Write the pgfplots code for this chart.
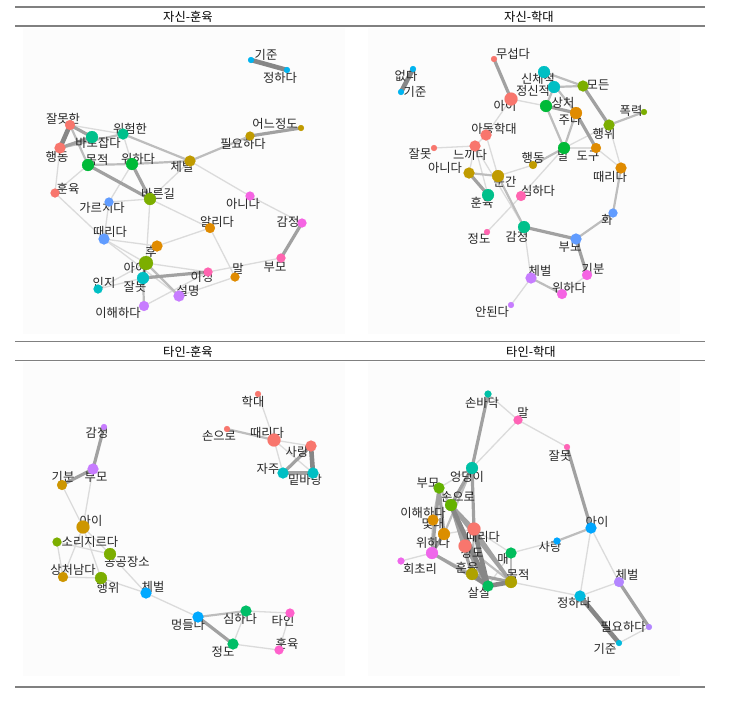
\documentclass[border=0pt]{standalone}
\usepackage{fontspec}
\setmainfont{Noto Sans CJK KR}
\usepackage{pgfplots}
\pgfplotsset{compat=1.18}
% 12-hue palette (top panels)
\definecolor{h1}{HTML}{F8766D}\definecolor{h2}{HTML}{E08B00}\definecolor{h3}{HTML}{C09B00}
\definecolor{h4}{HTML}{7CAE00}\definecolor{h5}{HTML}{00BA38}\definecolor{h6}{HTML}{00C08B}
\definecolor{h7}{HTML}{00BFC4}\definecolor{h8}{HTML}{00B4F0}\definecolor{h9}{HTML}{619CFF}
\definecolor{h10}{HTML}{C77CFF}\definecolor{h11}{HTML}{F564E3}\definecolor{h12}{HTML}{FF64B0}
% 8-hue palette (bottom left)
\definecolor{g1}{HTML}{F8766D}\definecolor{g2}{HTML}{CD9600}\definecolor{g3}{HTML}{7CAE00}
\definecolor{g4}{HTML}{00BE67}\definecolor{g5}{HTML}{00BFC4}\definecolor{g6}{HTML}{00A9FF}
\definecolor{g7}{HTML}{C77CFF}\definecolor{g8}{HTML}{FF61CC}
% 11-hue palette (bottom right)
\definecolor{k1}{HTML}{F8766D}\definecolor{k2}{HTML}{DB8E00}\definecolor{k3}{HTML}{AEA200}
\definecolor{k4}{HTML}{64B200}\definecolor{k5}{HTML}{00BD5C}\definecolor{k6}{HTML}{00C1A7}
\definecolor{k7}{HTML}{00BADE}\definecolor{k8}{HTML}{00A6FF}\definecolor{k9}{HTML}{B385FF}
\definecolor{k10}{HTML}{EF67EB}\definecolor{k11}{HTML}{FF63B6}
\definecolor{rulegray}{HTML}{808080}
\definecolor{panelbg}{HTML}{FCFCFC}

\newcommand\pos[2]{\expandafter\def\csname pos-#1\endcsname{#2}}
\newcommand\edg[3]{\edef\mytmp{\noexpand\addplot[#1] coordinates {(\csname pos-#2\endcsname) (\csname pos-#3\endcsname)};}\mytmp}
\newcommand\vtx[3]{\edef\mytmp{\noexpand\addplot[only marks, mark=*, color=#2, mark size=#3pt, mark options={solid, draw=#2, fill=#2, line width=0.1pt}, forget plot] coordinates {(\csname pos-#1\endcsname)};}\mytmp}
\newcommand\lab[3]{\node[lbl] at (axis cs:#1,#2) {#3};}

% ---------- panel 1: 자신-훈육 ----------
\pos{a1}{251,60}\pos{a2}{287,70}\pos{a3}{70,125}\pos{a4}{60,148}\pos{a5}{92,137}
\pos{a6}{123,134}\pos{a7}{88,165}\pos{a8}{132,164}\pos{a9}{190,161}\pos{a10}{250,136}
\pos{a11}{301,128}\pos{a12}{55,193}\pos{a13}{150,199}\pos{a14}{109,202}\pos{a15}{250,196}
\pos{a16}{302,223}\pos{a17}{210,228}\pos{a18}{104,239}\pos{a19}{157,246}\pos{a20}{146,263}
\pos{a21}{143,278}\pos{a22}{98,289}\pos{a23}{144,306}\pos{a24}{179,296}\pos{a25}{208,272}
\pos{a26}{235,277}\pos{a27}{281,258}
% ---------- panel 2: 자신-학대 ----------
\pos{b1}{413,69}\pos{b2}{401,92}\pos{b3}{494,59}\pos{b4}{511,99}\pos{b5}{544,72}
\pos{b6}{554,87}\pos{b7}{583,86}\pos{b8}{546,106}\pos{b9}{576,113}\pos{b10}{644,112}
\pos{b11}{609,125}\pos{b12}{486,135}\pos{b13}{434,148}\pos{b14}{475,146}\pos{b15}{564,148}
\pos{b16}{533,165}\pos{b17}{596,148}\pos{b18}{469,173}\pos{b19}{498,176}\pos{b20}{621,168}
\pos{b21}{488,195}\pos{b22}{521,196}\pos{b23}{613,213}\pos{b24}{487,232}\pos{b25}{524,227}
\pos{b26}{576,239}\pos{b27}{531,278}\pos{b28}{587,275}\pos{b29}{562,294}\pos{b30}{511,305}
% ---------- panel 3: 타인-훈육 ----------
\pos{c1}{258,394}\pos{c2}{227,429}\pos{c3}{274,440}\pos{c4}{311,446}\pos{c5}{283,473}
\pos{c6}{313,473}\pos{c7}{104,427}\pos{c8}{93,469}\pos{c9}{62,485}\pos{c10}{83,527}
\pos{c11}{57,542}\pos{c12}{110,554}\pos{c13}{63,577}\pos{c14}{101,578}\pos{c15}{146,593}
\pos{c16}{198,617}\pos{c17}{246,611}\pos{c18}{290,613}\pos{c19}{233,644}\pos{c20}{279,650}
% ---------- panel 4: 타인-학대 ----------
\pos{d1}{488,394}\pos{d2}{518,420}\pos{d3}{567,447}\pos{d4}{472,468}\pos{d5}{439,488}
\pos{d6}{451,505}\pos{d7}{433,520}\pos{d8}{444,534}\pos{d9}{474,529}\pos{d10}{465,546}
\pos{d11}{432,553}\pos{d12}{401,561}\pos{d13}{472,574}\pos{d14}{511,553}\pos{d15}{511,582}
\pos{d16}{488,586}\pos{d17}{557,541}\pos{d18}{591,528}\pos{d19}{619,582}\pos{d20}{580,596}
\pos{d21}{649,627}\pos{d22}{619,643}

\pgfplotsset{
  e1/.style={line width=1.3pt, color=black!14, line cap=round, forget plot},
  e2/.style={line width=2.2pt, color=black!26, line cap=round, forget plot},
  e3/.style={line width=3.2pt, color=black!37, line cap=round, forget plot},
  e4/.style={line width=4.6pt, color=black!47, line cap=round, forget plot},
}
\tikzset{lbl/.style={font=\fontsize{12.3}{13}\selectfont, text=black!85, inner sep=0pt, anchor=center},
         ttl/.style={font=\fontsize{12.3}{13}\selectfont, text=black, inner sep=0pt, anchor=center}}

\begin{document}
\begin{tikzpicture}
\begin{axis}[width=754pt, height=721pt, scale only axis,
  xmin=0, xmax=754, ymin=0, ymax=721, y dir=reverse,
  hide axis, clip=false]
\path (rel axis cs:0,0) rectangle (rel axis cs:1,1);
% panel backgrounds
\addplot[fill=panelbg, draw=none, forget plot] coordinates {(23,28) (345,28) (345,334) (23,334)} -- cycle;
\addplot[fill=panelbg, draw=none, forget plot] coordinates {(368,28) (680,28) (680,334) (368,334)} -- cycle;
\addplot[fill=panelbg, draw=none, forget plot] coordinates {(23,362) (345,362) (345,676) (23,676)} -- cycle;
\addplot[fill=panelbg, draw=none, forget plot] coordinates {(368,362) (680,362) (680,676) (368,676)} -- cycle;
% rules
\addplot[rulegray, line width=1.2pt, forget plot] coordinates {(15,7) (705,7)};
\addplot[rulegray, line width=1.2pt, forget plot] coordinates {(15,26) (705,26)};
\addplot[rulegray, line width=1.2pt, forget plot] coordinates {(15,341.5) (705,341.5)};
\addplot[rulegray, line width=1.2pt, forget plot] coordinates {(15,360.5) (705,360.5)};
\addplot[rulegray, line width=1.2pt, forget plot] coordinates {(15,687) (705,687)};
\node[ttl] at (axis cs:188,16.5) {자신-훈육};
\node[ttl] at (axis cs:529,16.5) {자신-학대};
\node[ttl] at (axis cs:188,351.5) {타인-훈육};
\node[ttl] at (axis cs:531,351.5) {타인-학대};

% ===== panel 1 edges =====
\edg{e1}{a3}{a6}\edg{e1}{a9}{a15}\edg{e1}{a15}{a16}\edg{e1}{a27}{a25}\edg{e1}{a26}{a24}
\edg{e1}{a26}{a17}\edg{e1}{a17}{a19}\edg{e1}{a13}{a17}\edg{e1}{a9}{a13}\edg{e1}{a13}{a14}
\edg{e1}{a13}{a20}\edg{e1}{a8}{a14}\edg{e1}{a6}{a8}\edg{e1}{a12}{a4}\edg{e1}{a12}{a7}
\edg{e1}{a12}{a18}\edg{e1}{a18}{a14}\edg{e1}{a18}{a19}\edg{e1}{a18}{a20}\edg{e1}{a18}{a24}
\edg{e1}{a20}{a25}\edg{e1}{a21}{a22}\edg{e1}{a20}{a22}\edg{e1}{a23}{a25}\edg{e1}{a19}{a20}
\edg{e2}{a3}{a7}\edg{e2}{a4}{a6}\edg{e2}{a7}{a8}\edg{e2}{a8}{a9}\edg{e2}{a6}{a9}
\edg{e2}{a9}{a10}\edg{e2}{a20}{a24}\edg{e2}{a21}{a23}
\edg{e3}{a3}{a5}\edg{e3}{a4}{a5}\edg{e3}{a7}{a13}\edg{e3}{a8}{a13}\edg{e3}{a10}{a11}
\edg{e3}{a16}{a27}\edg{e3}{a20}{a21}\edg{e3}{a21}{a25}
\edg{e4}{a1}{a2}\edg{e4}{a3}{a4}
% ===== panel 2 edges =====
\edg{e1}{b4}{b8}\edg{e1}{b4}{b12}\edg{e1}{b11}{b20}\edg{e1}{b15}{b17}\edg{e1}{b17}{b20}
\edg{e1}{b15}{b11}\edg{e1}{b16}{b19}\edg{e1}{b12}{b14}\edg{e1}{b12}{b19}\edg{e1}{b13}{b14}
\edg{e1}{b14}{b18}\edg{e1}{b14}{b21}\edg{e1}{b22}{b24}\edg{e1}{b22}{b15}\edg{e1}{b14}{b25}
\edg{e1}{b28}{b29}\edg{e1}{b25}{b27}\edg{e1}{b27}{b30}
\edg{e2}{b5}{b7}\edg{e2}{b5}{b9}\edg{e2}{b6}{b7}\edg{e2}{b6}{b8}\edg{e2}{b8}{b15}
\edg{e2}{b9}{b15}\edg{e2}{b11}{b10}\edg{e2}{b15}{b16}\edg{e2}{b18}{b19}\edg{e2}{b19}{b25}
\edg{e2}{b26}{b23}\edg{e2}{b23}{b20}\edg{e2}{b27}{b29}
\edg{e3}{b3}{b4}\edg{e3}{b8}{b9}\edg{e3}{b9}{b17}\edg{e3}{b7}{b11}\edg{e3}{b18}{b21}
\edg{e3}{b25}{b26}\edg{e3}{b26}{b28}
\edg{e4}{b1}{b2}
% ===== panel 3 edges =====
\edg{e1}{c1}{c3}\edg{e1}{c3}{c4}\edg{e1}{c3}{c5}\edg{e1}{c3}{c6}\edg{e1}{c9}{c10}
\edg{e1}{c8}{c10}\edg{e1}{c10}{c12}\edg{e1}{c10}{c14}\edg{e1}{c11}{c12}\edg{e1}{c11}{c13}
\edg{e1}{c13}{c14}\edg{e1}{c12}{c15}\edg{e1}{c14}{c15}\edg{e1}{c15}{c16}\edg{e1}{c17}{c19}
\edg{e1}{c17}{c18}\edg{e1}{c19}{c20}\edg{e1}{c18}{c20}\edg{e1}{c10}{c13}
\edg{e2}{c2}{c3}\edg{e2}{c16}{c17}
\edg{e3}{c5}{c4}\edg{e3}{c5}{c6}\edg{e3}{c7}{c8}\edg{e3}{c8}{c9}\edg{e3}{c16}{c19}
\edg{e4}{c4}{c6}
% ===== panel 4 edges =====
\edg{e1}{d1}{d2}\edg{e1}{d2}{d4}\edg{e1}{d2}{d3}\edg{e1}{d4}{d5}\edg{e1}{d8}{d9}
\edg{e1}{d11}{d12}\edg{e1}{d14}{d17}\edg{e1}{d14}{d16}\edg{e1}{d14}{d9}\edg{e1}{d15}{d20}
\edg{e1}{d18}{d20}\edg{e1}{d18}{d19}\edg{e1}{d20}{d19}\edg{e1}{d21}{d22}
\edg{e2}{d4}{d8}\edg{e2}{d5}{d6}\edg{e2}{d5}{d7}\edg{e2}{d7}{d11}\edg{e2}{d9}{d13}
\edg{e2}{d10}{d15}\edg{e2}{d11}{d13}\edg{e2}{d14}{d15}\edg{e2}{d17}{d18}
\edg{e3}{d1}{d4}\edg{e3}{d3}{d18}\edg{e3}{d4}{d9}\edg{e3}{d4}{d6}\edg{e3}{d5}{d8}
\edg{e3}{d5}{d11}\edg{e3}{d6}{d9}\edg{e3}{d6}{d10}\edg{e3}{d6}{d13}\edg{e3}{d6}{d15}
\edg{e3}{d8}{d11}\edg{e3}{d9}{d15}\edg{e3}{d10}{d16}\edg{e3}{d11}{d16}\edg{e3}{d13}{d15}
\edg{e3}{d19}{d21}
\edg{e4}{d6}{d16}\edg{e4}{d9}{d16}\edg{e4}{d13}{d16}\edg{e4}{d16}{d15}\edg{e4}{d20}{d22}

% ===== nodes =====
\vtx{a1}{h8}{3}\vtx{a2}{h8}{3}\vtx{a3}{h1}{5}\vtx{a4}{h1}{5.5}\vtx{a5}{h6}{6}
\vtx{a6}{h6}{5.5}\vtx{a7}{h5}{6}\vtx{a8}{h5}{6}\vtx{a9}{h3}{5.5}\vtx{a10}{h3}{4.5}
\vtx{a11}{h3}{3}\vtx{a12}{h1}{4.5}\vtx{a13}{h4}{6}\vtx{a14}{h9}{4.5}\vtx{a15}{h11}{4.5}
\vtx{a16}{h11}{4.5}\vtx{a17}{h2}{5}\vtx{a18}{h9}{5.5}\vtx{a19}{h2}{5.5}\vtx{a20}{h4}{7}
\vtx{a21}{h7}{6}\vtx{a22}{h7}{4.5}\vtx{a23}{h10}{5}\vtx{a24}{h10}{5.5}\vtx{a25}{h12}{4.5}
\vtx{a26}{h2}{4.5}\vtx{a27}{h12}{4.5}

\vtx{b1}{h8}{3}\vtx{b2}{h8}{3}\vtx{b3}{h1}{3}\vtx{b4}{h1}{6.5}\vtx{b5}{h7}{6}
\vtx{b6}{h7}{6}\vtx{b7}{h4}{5.5}\vtx{b8}{h5}{6}\vtx{b9}{h2}{6}\vtx{b10}{h4}{3}
\vtx{b11}{h4}{5.5}\vtx{b12}{h1}{5.5}\vtx{b13}{h1}{3}\vtx{b14}{h1}{5.5}\vtx{b15}{h5}{6}
\vtx{b16}{h3}{4}\vtx{b17}{h2}{5}\vtx{b18}{h3}{5.5}\vtx{b19}{h3}{6}\vtx{b20}{h2}{5.5}
\vtx{b21}{h6}{6}\vtx{b22}{h12}{5}\vtx{b23}{h9}{4.5}\vtx{b24}{h12}{3}\vtx{b25}{h6}{6}
\vtx{b26}{h9}{5.5}\vtx{b27}{h10}{5.5}\vtx{b28}{h11}{5}\vtx{b29}{h11}{5}\vtx{b30}{h10}{3}

\vtx{c1}{g1}{3}\vtx{c2}{g1}{3}\vtx{c3}{g1}{6.5}\vtx{c4}{g1}{5.5}\vtx{c5}{g5}{5.5}
\vtx{c6}{g5}{5.5}\vtx{c7}{g7}{3}\vtx{c8}{g7}{5.5}\vtx{c9}{g2}{5}\vtx{c10}{g2}{6.5}
\vtx{c11}{g3}{4.5}\vtx{c12}{g3}{6}\vtx{c13}{g2}{5}\vtx{c14}{g3}{6}\vtx{c15}{g6}{5.5}
\vtx{c16}{g6}{5.5}\vtx{c17}{g4}{5.5}\vtx{c18}{g8}{4.5}\vtx{c19}{g4}{5.5}\vtx{c20}{g8}{4.5}

\vtx{d1}{k6}{3.5}\vtx{d2}{k11}{4.5}\vtx{d3}{k11}{3}\vtx{d4}{k6}{6}\vtx{d5}{k4}{5.5}
\vtx{d6}{k4}{6}\vtx{d7}{k2}{5.5}\vtx{d8}{k2}{6}\vtx{d9}{k1}{6.5}\vtx{d10}{k1}{6.5}
\vtx{d11}{k10}{6}\vtx{d12}{k10}{3.5}\vtx{d13}{k3}{6}\vtx{d14}{k5}{5.5}\vtx{d15}{k3}{6}
\vtx{d16}{k5}{5.5}\vtx{d17}{k8}{3.5}\vtx{d18}{k8}{5.5}\vtx{d19}{k9}{5}\vtx{d20}{k7}{5.5}
\vtx{d21}{k9}{3}\vtx{d22}{k7}{3}

% ===== labels =====
\lab{266}{55}{기준}\lab{280}{78}{정하다}\lab{63}{119}{잘못한}\lab{57}{157}{행동}
\lab{98}{143}{바로잡다}\lab{130}{129}{위험한}\lab{97}{160}{목적}\lab{138}{159}{위하다}
\lab{182}{167}{체벌}\lab{243}{144}{필요하다}\lab{275}{124}{어느정도}\lab{68}{189}{훈육}
\lab{158}{194}{바른길}\lab{102}{208}{가르치다}\lab{243}{204}{아니다}\lab{288}{222}{감정}
\lab{217}{222}{알리다}\lab{110}{232}{때리다}\lab{151}{252}{후}\lab{135}{268}{아이}
\lab{135}{287}{잘못}\lab{104}{283}{인지}\lab{118}{313}{이해하다}\lab{188}{291}{설명}
\lab{202}{277}{이정}\lab{238}{269}{말}\lab{275}{267}{부모}

\lab{406}{76}{없다}\lab{415}{92}{기준}\lab{513}{54}{무섭다}\lab{505}{106}{아이}
\lab{538}{79}{신체적}\lab{533}{91}{정신적}\lab{598}{85}{모든}\lab{563}{103}{상처}
\lab{570}{120}{주다}\lab{631}{111}{폭력}\lab{604}{134}{행위}\lab{494}{129}{아동학대}
\lab{420}{154}{잘못}\lab{470}{155}{느끼다}\lab{563}{156}{말}\lab{533}{158}{행동}
\lab{588}{156}{도구}\lab{445}{168}{아니다}\lab{505}{182}{순간}\lab{610}{177}{때리다}
\lab{482}{203}{훈육}\lab{538}{191}{심하다}\lab{607}{220}{화}\lab{479}{239}{정도}
\lab{517}{237}{감정}\lab{570}{247}{부모}\lab{540}{271}{체벌}\lab{593}{269}{기분}
\lab{569}{288}{위하다}\lab{492}{312}{안된다}

\lab{253}{402}{학대}\lab{219}{436}{손으로}\lab{267}{433}{때리다}\lab{297}{452}{사랑}
\lab{268}{469}{자주}\lab{305}{480}{밑바탕}\lab{97}{433}{감정}\lab{96}{477}{부모}
\lab{63}{477}{기분}\lab{91}{521}{아이}\lab{90}{542}{소리지르다}\lab{127}{562}{공공장소}
\lab{73}{570}{상처남다}\lab{108}{588}{행위}\lab{153}{587}{체벌}\lab{188}{625}{멍들다}
\lab{240}{619}{심하다}\lab{283}{621}{타인}\lab{223}{652}{정도}\lab{287}{644}{훈육}

\lab{482}{403}{손바닥}\lab{523}{413}{말}\lab{560}{456}{잘못}\lab{467}{477}{엉덩이}
\lab{428}{483}{부모}\lab{458}{497}{손으로}\lab{423}{513}{이해하다}\lab{433}{524}{몇대}
\lab{483}{537}{때리다}\lab{472}{553}{정도}\lab{433}{543}{위하다}\lab{420}{569}{회초리}
\lab{467}{568}{훈육}\lab{503}{559}{매}\lab{518}{575}{목적}\lab{479}{593}{살살}
\lab{550}{547}{사랑}\lab{597}{522}{아이}\lab{627}{575}{체벌}\lab{574}{603}{정하다}
\lab{623}{627}{필요하다}\lab{605}{649}{기준}
\end{axis}
\end{tikzpicture}
\end{document}
